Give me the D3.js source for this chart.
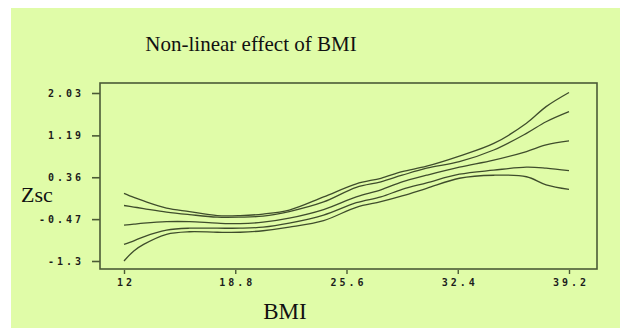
<!DOCTYPE html>
<html>
<head>
<meta charset="utf-8">
<script src="https://cdn.jsdelivr.net/npm/d3@7"></script>
<style>
  html, body { margin: 0; padding: 0; background: #ffffff; }
  svg { display: block; }
</style>
</head>
<body>
<svg id="chart" width="623" height="330"></svg>
<script>
// ---- data ----
const bmi      = [12, 12.6, 13.2, 14.6, 16, 17.7, 19.1, 20.5, 22.1, 24.2, 26.2, 27.7, 29, 30.5, 32.5, 34.6, 36.6, 37.8, 39.2];
const upper    = [0.04, -0.04, -0.11, -0.25, -0.32, -0.40, -0.40, -0.37, -0.29, -0.03, 0.23, 0.34, 0.47, 0.58, 0.78, 1.03, 1.43, 1.76, 2.04];
const upperIn  = [-0.20, -0.23, -0.26, -0.33, -0.38, -0.43, -0.43, -0.41, -0.32, -0.13, 0.16, 0.27, 0.40, 0.54, 0.67, 0.90, 1.23, 1.46, 1.66];
const estimate = [-0.59, -0.57, -0.55, -0.52, -0.52, -0.55, -0.56, -0.53, -0.45, -0.28, -0.03, 0.11, 0.27, 0.40, 0.56, 0.70, 0.87, 1.00, 1.08];
const lowerIn  = [-0.97, -0.90, -0.82, -0.69, -0.65, -0.65, -0.65, -0.63, -0.55, -0.39, -0.145, -0.03, 0.12, 0.25, 0.42, 0.50, 0.56, 0.54, 0.49];
const lower    = [-1.30, -1.10, -0.97, -0.77, -0.72, -0.73, -0.73, -0.70, -0.63, -0.50, -0.235, -0.125, -0.01, 0.14, 0.34, 0.40, 0.37, 0.21, 0.12];
const seriesList = [upper, upperIn, estimate, lowerIn, lower];

const yTickValues = [2.03, 1.19, 0.36, -0.47, -1.3];
const yTickLabels = ["2.03", "1.19", "0.36", "-0.47", "-1.3"];
const xTickValues = [12, 18.8, 25.6, 32.4, 39.2];
const xTickLabels = ["12", "18.8", "25.6", "32.4", "39.2"];

const titleText = "Non-linear effect of BMI";
const xTitle = "BMI";
const yTitle = "Zsc";

// ---- layout ----
const svg = d3.select("#chart");
const bg = "#e0fca8";
const ink = "#4b5a36";
const frame = { left: 100, right: 597, top: 83, bottom: 269 };

svg.append("rect").attr("x", 11).attr("y", 8).attr("width", 609).attr("height", 320).attr("fill", bg);

const x = d3.scaleLinear().domain([12, 39.2]).range([124, 569]);
const y = d3.scaleLinear().domain([-1.3, 2.03]).range([261, 93]);

// frame
svg.append("rect")
  .attr("x", frame.left).attr("y", frame.top)
  .attr("width", frame.right - frame.left).attr("height", frame.bottom - frame.top)
  .attr("fill", "none").attr("stroke", ink).attr("stroke-width", 1.6);

const tickFont = "'DejaVu Sans Mono', monospace";
const ls = 3;

// y axis
const yAxis = d3.axisLeft(y).tickValues(yTickValues).tickSize(8).tickPadding(0)
  .tickFormat((d, i) => yTickLabels[i]);
const gy = svg.append("g").attr("transform", `translate(${frame.left},0)`).call(yAxis);
gy.select(".domain").remove();
gy.selectAll(".tick line").attr("stroke", ink).attr("stroke-width", 1.6);
gy.selectAll(".tick text")
  .attr("x", -18 + ls - 1).attr("dy", "0.35em")
  .attr("fill", "#1c1c1c")
  .style("font-family", tickFont).style("font-weight", "bold")
  .style("font-size", "10px").style("letter-spacing", ls + "px");

// x axis
const xAxis = d3.axisBottom(x).tickValues(xTickValues).tickSize(4).tickPadding(0)
  .tickFormat((d, i) => xTickLabels[i]);
const gx = svg.append("g").attr("transform", `translate(0,${frame.bottom + 1})`).call(xAxis);
gx.select(".domain").remove();
gx.selectAll(".tick line").attr("stroke", ink).attr("stroke-width", 1.4);
gx.selectAll(".tick text")
  .attr("y", 12).attr("dx", (ls / 2) + "px").attr("dy", "0.35em")
  .attr("fill", "#1c1c1c")
  .style("font-family", tickFont).style("font-weight", "bold")
  .style("font-size", "10px").style("letter-spacing", ls + "px");

// curves
const line = d3.line()
  .x((d, i) => x(bmi[i]))
  .y(d => y(d))
  .curve(d3.curveCatmullRom.alpha(0.5));

svg.append("g").selectAll("path").data(seriesList).join("path")
  .attr("d", d => line(d))
  .attr("fill", "none")
  .attr("stroke", "#3f4d2c")
  .attr("stroke-width", 1.3);

// titles
const serif = "'Liberation Serif', 'Times New Roman', serif";
svg.append("text").attr("x", 251).attr("y", 51).attr("text-anchor", "middle")
  .style("font-family", serif).style("font-size", "21px").attr("fill", "#111")
  .text(titleText);
svg.append("text").attr("x", 21).attr("y", 202)
  .style("font-family", serif).style("font-size", "22px").attr("fill", "#111")
  .text(yTitle);
svg.append("text").attr("x", 285).attr("y", 319).attr("text-anchor", "middle")
  .style("font-family", serif).style("font-size", "23px").attr("fill", "#111")
  .text(xTitle);
</script>
</body>
</html>
